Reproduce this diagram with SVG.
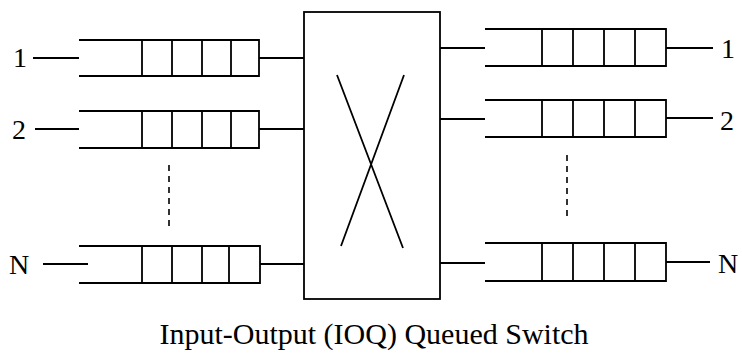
<svg xmlns="http://www.w3.org/2000/svg" width="742" height="364" viewBox="0 0 742 364">
<style>
.l{stroke:#000;stroke-width:1.8;fill:none;stroke-linecap:butt}
.d{stroke:#000;stroke-width:1.6;fill:none;stroke-dasharray:6 5}
.t{font-family:"Liberation Serif","Times New Roman",serif;fill:#000}
</style>
<rect width="742" height="364" fill="#fff"/>
<g id="in-queue-1">
<path class="l" d="M79 40H259V76H79M142 40V76M172 40V76M202 40V76M231 40V76"/>
<text class="t" x="13" y="67" font-size="28">1</text>
</g>
<g id="in-queue-2">
<path class="l" d="M79 111H259V148H79M142 111V148M172 111V148M202 111V148M231 111V148"/>
<text class="t" x="12" y="139" font-size="28">2</text>
</g>
<g id="in-queue-N">
<path class="l" d="M79 246H260V283H79M142 246V283M172 246V283M202 246V283M229 246V283"/>
<text class="t" x="9" y="274" font-size="28">N</text>
</g>
<g id="switch">
<rect class="l" x="304" y="12" width="136" height="287" stroke-width="2"/>
<path class="l" d="M337 75L403 248M404 75L341 246"/>
</g>
<g id="out-queue-1">
<path class="l" d="M485 29H666V66H485M542 29V66M573 29V66M604 29V66M635 29V66"/>
<text class="t" x="721" y="58" font-size="28">1</text>
</g>
<g id="out-queue-2">
<path class="l" d="M485 100H666V137H485M542 100V137M573 100V137M604 100V137M635 100V137"/>
<text class="t" x="720" y="130" font-size="28">2</text>
</g>
<g id="out-queue-N">
<path class="l" d="M485 243H666V281H485M542 243V281M573 243V281M604 243V281M635 243V281"/>
<text class="t" x="718" y="273" font-size="28">N</text>
</g>
<g id="connectors">
<path class="l" d="M33 58H79M35 129H79M43 264H88"/>
<path class="l" d="M259 58H304M259 129H304M260 264H304"/>
<path class="l" d="M440 48H485M440 119H485M440 263H485"/>
<path class="l" d="M666 48H713M666 118H713M666 262H710"/>
<path class="d" d="M169 165V228M567 155V218"/>
</g>
<text class="t" x="374" y="344" font-size="30" text-anchor="middle">Input-Output (IOQ) Queued Switch</text>
</svg>
